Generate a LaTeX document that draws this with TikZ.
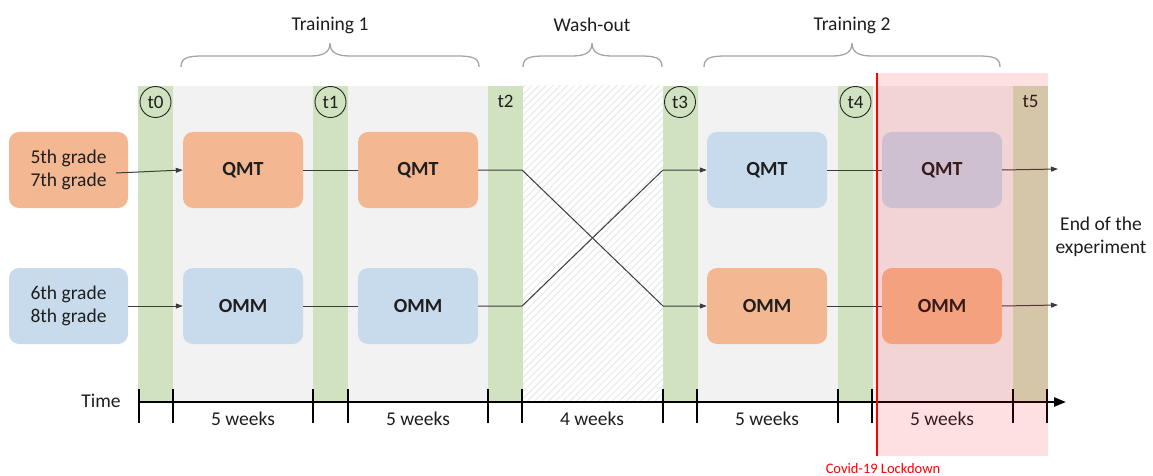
\documentclass[tikz,border=0pt]{standalone}
\usepackage{fontspec}
\setmainfont{Carlito}
\usetikzlibrary{arrows.meta,patterns.meta}
\definecolor{bandgreen}{RGB}{208,226,192}
\definecolor{bggray}{RGB}{242,242,242}
\definecolor{boxorange}{RGB}{243,184,146}
\definecolor{boxblue}{RGB}{200,219,237}
\definecolor{lineg}{RGB}{60,60,60}
\definecolor{braceg}{RGB}{165,165,165}
\definecolor{txt}{RGB}{30,30,30}
\tikzset{
  grp/.style={rounded corners=10pt, minimum width=119pt, minimum height=76pt, inner sep=0pt, align=center, text=txt, font=\fontsize{19.5}{23}\selectfont},
  trainbox/.style={rounded corners=10pt, minimum width=120pt, minimum height=76pt, inner sep=0pt, text=txt, font=\fontsize{20}{24}\selectfont\bfseries},
  tcirc/.style={circle, draw=black!85, line width=0.9pt, minimum size=31pt, inner sep=0pt, text=txt, font=\fontsize{19}{22}\selectfont},
  tlab/.style={inner sep=0pt, text=txt, font=\fontsize{19}{22}\selectfont},
  lbl/.style={inner sep=0pt, text=txt, font=\fontsize{19.5}{23}\selectfont},
  conn/.style={draw=lineg, line width=1pt},
  connarr/.style={conn, -{Triangle[length=7pt,width=5pt]}},
  bracepath/.style={draw=braceg, line width=1.3pt},
  tick/.style={draw=black, line width=2.4pt},
}
\begin{document}
\begin{tikzpicture}[x=1pt,y=-1pt]
\useasboundingbox (0,0) rectangle (1153,476);
% backgrounds
\fill[bggray] (138,86) rectangle (1048,402);
\fill[white] (522,86) rectangle (663,402);
\fill[pattern={Lines[angle=45,distance=5pt,line width=0.8pt]}, pattern color=black!10] (522,86) rectangle (663,402);
\foreach \x in {138,313,488,663,838,1013} \fill[bandgreen] (\x,86) rectangle (\x+35,402);
% braces
\foreach \a/\b/\m in {181/479/330, 523/662/592, 704/1000/852}
  \draw[bracepath] (\a,67) .. controls (\a,58) and (\a+6,56) .. (\a+22,56) -- (\m-20,56)
     .. controls (\m-6,56) and (\m,52) .. (\m,43) .. controls (\m,52) and (\m+6,56) .. (\m+20,56)
     -- (\b-22,56) .. controls (\b-6,56) and (\b,58) .. (\b,67);
\node[lbl] (tr1) at (330,25) {Training 1};
\node[lbl] (wo) at (592,25) {Wash-out};
\node[lbl] (tr2) at (852,25) {Training 2};
% time labels
\node[tcirc] (t0) at (155.5,102) {t0};
\node[tcirc] (t1) at (330.5,102) {t1};
\node[tlab] (t2) at (505.5,101) {t2};
\node[tcirc] (t3) at (680,102) {t3};
\node[tcirc] (t4) at (855.5,102) {t4};
\node[tlab] (t5) at (1030.5,101) {t5};
% boxes
\node[grp, fill=boxorange] (g1) at (68.5,170) {5th grade\\7th grade};
\node[grp, fill=boxblue] (g2) at (68.5,306) {6th grade\\8th grade};
\node[trainbox, fill=boxorange] (q1) at (243,170) {QMT};
\node[trainbox, fill=boxorange] (q2) at (418,170) {QMT};
\node[trainbox, fill=boxblue] (q3) at (767,170) {QMT};
\node[trainbox, fill=boxblue] (q4) at (942,170) {QMT};
\node[trainbox, fill=boxblue] (o1) at (243,306) {OMM};
\node[trainbox, fill=boxblue] (o2) at (418,306) {OMM};
\node[trainbox, fill=boxorange] (o3) at (767,306) {OMM};
\node[trainbox, fill=boxorange] (o4) at (942,306) {OMM};
% connectors
\coordinate (s1) at (116,173);
\coordinate (c1) at (522,170);
\coordinate (c2) at (663,306);
\coordinate (c3) at (522,306);
\coordinate (c4) at (663,170);
\coordinate (e1) at (1058,169);
\coordinate (e2) at (1058,305);
\draw[connarr] (s1) -- (q1.west);
\draw[connarr] (g2.east) -- (o1.west);
\draw[conn] (q1.east) -- (q2.west);
\draw[conn] (o1.east) -- (o2.west);
\draw[connarr] (q2.east) -- (c1) -- (c2) -- (o3.west);
\draw[connarr] (o2.east) -- (c3) -- (c4) -- (q3.west);
\draw[conn] (q3.east) -- (q4.west);
\draw[conn] (o3.east) -- (o4.west);
\draw[connarr] (q4.east) -- (e1);
\draw[connarr] (o4.east) -- (e2);
\node[lbl, align=center, font=\fontsize{19.5}{23}\selectfont] (end) at (1101,237) {End of the\\experiment};
% axis
\coordinate (ax0) at (138,402);
\coordinate (ax1) at (1066,402);
\draw[line width=2.4pt, -{Triangle[length=12pt,width=9pt]}] (ax0) -- (ax1);
\foreach \x in {139,173,313,348,488,522,663,697,838,872,1013,1047} \draw[tick] (\x,389) -- (\x,423);
\node[lbl] (time) at (101,401) {Time};
\node[lbl] (w1) at (243,419) {5 weeks};
\node[lbl] (w2) at (418,419) {5 weeks};
\node[lbl] (w3) at (592,419) {4 weeks};
\node[lbl] (w4) at (767,419) {5 weeks};
\node[lbl] (w5) at (942,419) {5 weeks};
% lockdown overlay
\fill[red, opacity=0.12] (877,73) rectangle (1048,456);
\draw[red, line width=1.4pt] (877,73) -- (877,456);
\node[inner sep=0pt, text=red, font=\fontsize{14.5}{17}\selectfont] (covid) at (883,469) {Covid-19 Lockdown};
\end{tikzpicture}
\end{document}
